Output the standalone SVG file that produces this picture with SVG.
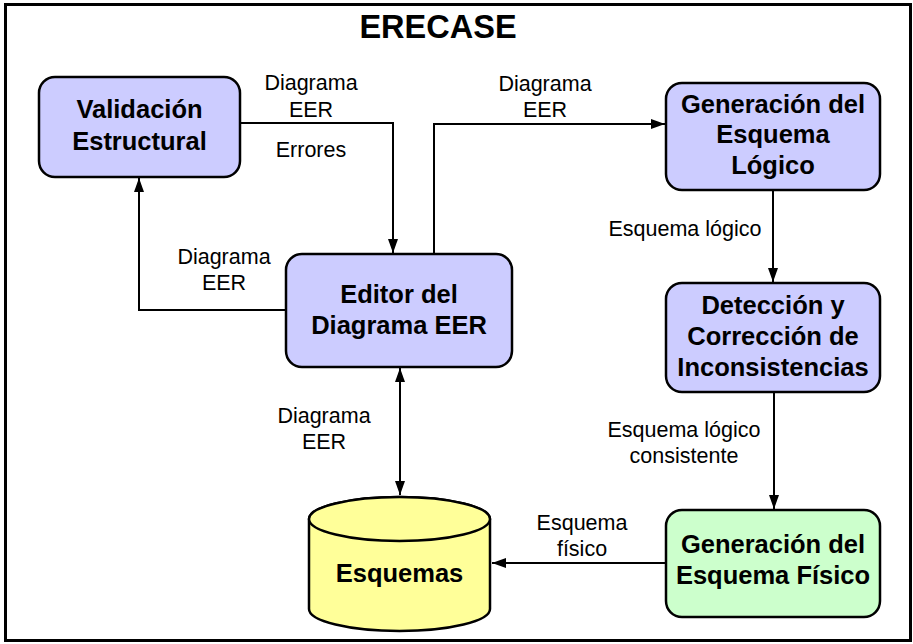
<svg xmlns="http://www.w3.org/2000/svg" width="913" height="644" viewBox="0 0 913 644">
<defs>
<style>
.box{fill:#ccccff;stroke:#000;stroke-width:2.5}
.green{fill:#ccffcc;stroke:#000;stroke-width:2.5}
.db{fill:#ffff99;stroke:#000;stroke-width:2.5}
.nt{font-family:"Liberation Sans",Arial,sans-serif;font-weight:bold;font-size:25.5px;text-anchor:middle;fill:#000}
.lb{font-family:"Liberation Sans",Arial,sans-serif;font-size:21.5px;text-anchor:middle;fill:#000}
.ln{fill:none;stroke:#000;stroke-width:2}
</style>
<marker id="ah" viewBox="0 0 14 10" refX="14" refY="5" markerWidth="14" markerHeight="10" markerUnits="userSpaceOnUse" orient="auto-start-reverse" preserveAspectRatio="none">
<path d="M0,0 L14,5 L0,10 z" fill="#000"/>
</marker>
</defs>
<rect x="0" y="0" width="913" height="644" fill="#fff"/>
<rect x="5.5" y="4.5" width="905" height="636" fill="none" stroke="#000" stroke-width="3"/>
<text x="438" y="38" font-family="'Liberation Sans',Arial,sans-serif" font-weight="bold" font-size="32.5" text-anchor="middle">ERECASE</text>

<g id="connectors">
<path class="ln" d="M240,123 H393 V253" marker-end="url(#ah)"/>
<path class="ln" d="M286,310 H139 V178" marker-end="url(#ah)"/>
<path class="ln" d="M434,254 V124 H665" marker-end="url(#ah)"/>
<path class="ln" d="M773,190 V282" marker-end="url(#ah)"/>
<path class="ln" d="M774,392 V509" marker-end="url(#ah)"/>
<path class="ln" d="M666,563 H492" marker-end="url(#ah)"/>
<path class="ln" d="M400,368 V495" marker-start="url(#ah)" marker-end="url(#ah)"/>
<text class="lb" x="311" y="90">Diagrama</text>
<text class="lb" x="311" y="117">EER</text>
<text class="lb" x="311" y="157">Errores</text>
<text class="lb" x="224" y="264">Diagrama</text>
<text class="lb" x="224" y="290">EER</text>
<text class="lb" x="545" y="91">Diagrama</text>
<text class="lb" x="545" y="117">EER</text>
<text class="lb" x="685" y="236">Esquema lógico</text>
<text class="lb" x="324" y="423">Diagrama</text>
<text class="lb" x="324" y="449">EER</text>
<text class="lb" x="684" y="437">Esquema lógico</text>
<text class="lb" x="684" y="463">consistente</text>
<text class="lb" x="582" y="530">Esquema</text>
<text class="lb" x="582" y="556">físico</text>
</g>

<g id="validacion">
<rect class="box" x="39" y="77" width="201" height="100" rx="16"/>
<text class="nt" x="139.5" y="118">Validación</text>
<text class="nt" x="139.5" y="150">Estructural</text>
</g>

<g id="editor">
<rect class="box" x="286" y="254" width="226" height="113" rx="16"/>
<text class="nt" x="399" y="303">Editor del</text>
<text class="nt" x="399" y="334">Diagrama EER</text>
</g>

<g id="gen-logico">
<rect class="box" x="666" y="83" width="214" height="107" rx="16"/>
<text class="nt" x="773" y="113">Generación del</text>
<text class="nt" x="773" y="143">Esquema</text>
<text class="nt" x="773" y="174">Lógico</text>
</g>

<g id="deteccion">
<rect class="box" x="666" y="283" width="214" height="109" rx="16"/>
<text class="nt" x="773" y="314">Detección y</text>
<text class="nt" x="773" y="345">Corrección de</text>
<text class="nt" x="773" y="376">Inconsistencias</text>
</g>

<g id="gen-fisico">
<rect class="green" x="666" y="510" width="214" height="107" rx="16"/>
<text class="nt" x="773" y="553">Generación del</text>
<text class="nt" x="773" y="584">Esquema Físico</text>
</g>

<g id="esquemas">
<path class="db" d="M309,519 V609 A90.5,22 0 0 0 490,609 V519 A90.5,22 0 0 0 309,519 Z"/>
<ellipse class="db" cx="399.5" cy="519" rx="90.5" ry="22"/>
<text class="nt" x="399.5" y="582">Esquemas</text>
</g>
</svg>
